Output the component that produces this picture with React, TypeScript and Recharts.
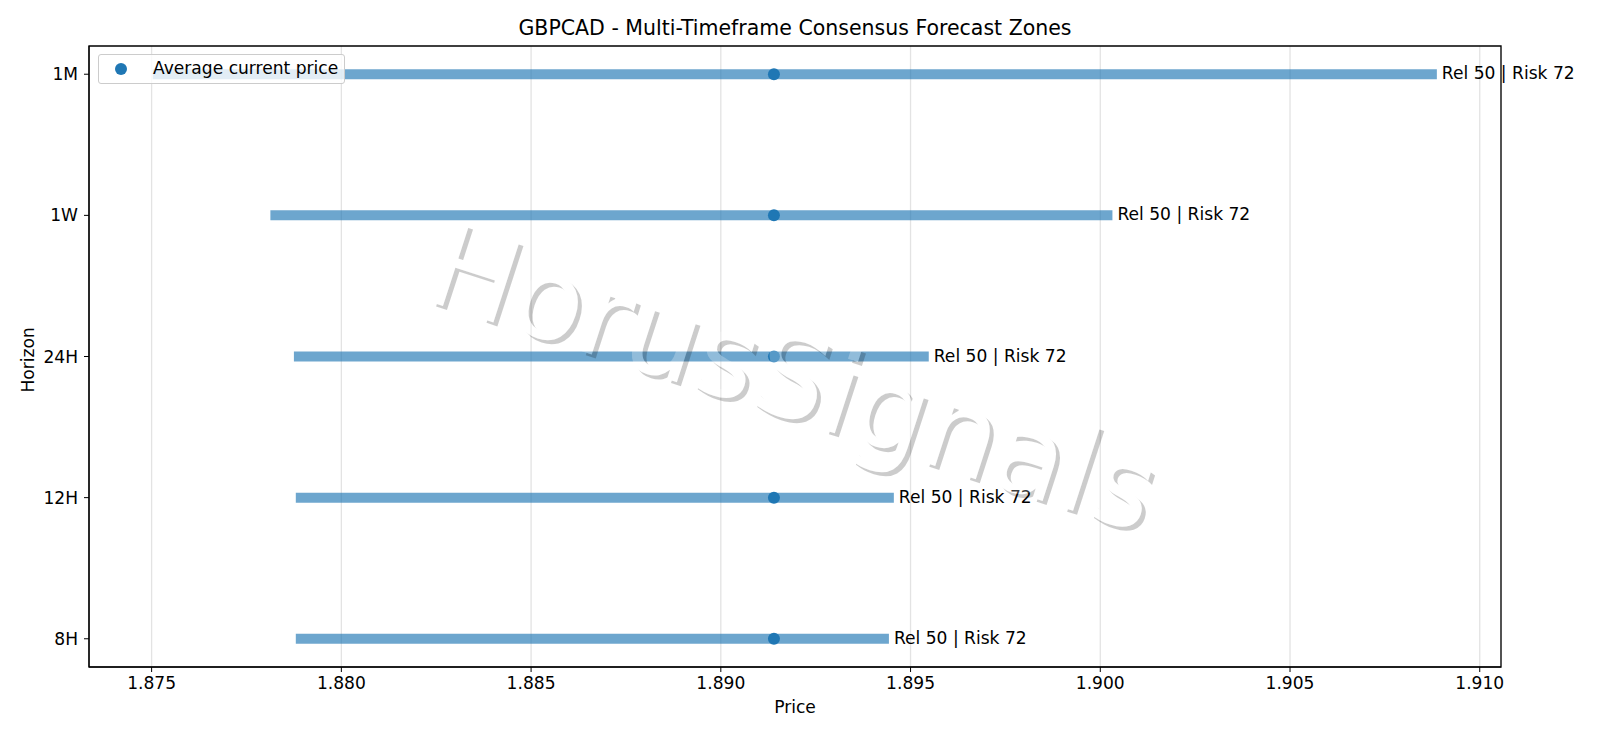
import React from 'react'
import { ScatterChart, Scatter, XAxis, YAxis, CartesianGrid, ReferenceArea, Legend } from 'recharts'

const horizons = ['8H', '12H', '24H', '1W', '1M']
const lows = [1.8788, 1.8788, 1.87875, 1.87813, 1.87503]
const highs = [1.89443, 1.89456, 1.89548, 1.90032, 1.90887]
const avgPrice = [1.8914, 1.8914, 1.8914, 1.8914, 1.8914]
const zoneLabels = ['Rel 50 | Risk 72', 'Rel 50 | Risk 72', 'Rel 50 | Risk 72', 'Rel 50 | Risk 72', 'Rel 50 | Risk 72']
const xTicks = [1.875, 1.88, 1.885, 1.89, 1.895, 1.9, 1.905, 1.91]
const yTicks = [0, 1, 2, 3, 4]
const xDomain = [1.87335, 1.91056]
const yDomain = [-0.2, 4.2]

const FONT = '"DejaVu Sans", sans-serif'
const BLUE = '#1f77b4'
const WATERMARK = 'HorusSignals'
const WM_TRANSFORM = 'translate(781 416) rotate(18)'
const WM_SIZE = 116

const avgPoints = avgPrice.map((x, i) => ({ x, y: i }))
const labelPoints = highs.map((x, i) => ({ x, y: i, text: zoneLabels[i] }))

const ZoneLabel = (props: any) => (
  <text x={props.cx + 5} y={props.cy + 5} fontSize={17.1} fontFamily={FONT} fill="#000">
    {props.payload.text}
  </text>
)

const AvgLegend = () => (
  <div style={{ width: 247, height: 30, boxSizing: 'border-box', background: 'rgba(255,255,255,0.8)', border: '1px solid #ccc', borderRadius: 3, position: 'relative', fontFamily: FONT, fontSize: 17.1, color: '#000' }}>
    <span style={{ position: 'absolute', left: 16, top: 8, width: 12, height: 12, borderRadius: 6, background: BLUE }} />
    <span style={{ position: 'absolute', left: 54, top: 3, whiteSpace: 'nowrap' }}>Average current price</span>
  </div>
)

// white letters with a soft shadow that only shows outside the glyphs
const Watermark = () => (
  <svg width={1600} height={738} style={{ position: 'absolute', left: 0, top: 0, pointerEvents: 'none' }}>
    <defs>
      <mask id="wm-cut" maskUnits="userSpaceOnUse" x={0} y={0} width={1600} height={738}>
        <rect x={0} y={0} width={1600} height={738} fill="#fff" />
        <g transform={WM_TRANSFORM} fontFamily={FONT} fontSize={WM_SIZE} textAnchor="middle">
          <text fill="#000">{WATERMARK}</text>
        </g>
      </mask>
    </defs>
    <g mask="url(#wm-cut)">
      <g transform="translate(4 4)">
        <g transform={WM_TRANSFORM} fontFamily={FONT} fontSize={WM_SIZE} textAnchor="middle">
          <text fill="#000" fillOpacity={0.2}>{WATERMARK}</text>
        </g>
      </g>
    </g>
    <g transform={WM_TRANSFORM} fontFamily={FONT} fontSize={WM_SIZE} textAnchor="middle">
      <text fill="#fff" fillOpacity={0.25}>{WATERMARK}</text>
    </g>
  </svg>
)

export default function App() {
  return (
    <div style={{ position: 'absolute', left: 0, top: 0, width: 1600, height: 738, background: '#fff', overflow: 'hidden' }}>
      <div style={{ position: 'absolute', left: 0, top: 16, paddingLeft: 190, boxSizing: 'border-box', width: 1400, textAlign: 'center', fontFamily: FONT, fontSize: 20.5, color: '#000' }}>
        GBPCAD - Multi-Timeframe Consensus Forecast Zones
      </div>
      <ScatterChart width={1600} height={738} margin={{ top: 46, right: 99, bottom: 1, left: 0 }}>
        <CartesianGrid horizontal={false} stroke="#e3e3e3" strokeWidth={1.3} />
        <XAxis
          type="number"
          dataKey="x"
          domain={xDomain}
          ticks={xTicks}
          height={40}
          tickSize={5}
          tickMargin={5}
          tickFormatter={(v: number) => v.toFixed(3)}
          tick={{ fontSize: 17.1, fontFamily: FONT, fill: '#000' }}
          stroke="#000"
          label={{ value: 'Price', position: 'insideBottom', offset: -6, fontSize: 17.1, fontFamily: FONT, fill: '#000' }}
        />
        <YAxis
          type="number"
          dataKey="y"
          domain={yDomain}
          ticks={yTicks}
          width={89}
          tickSize={5}
          tickMargin={6}
          tickFormatter={(v: number) => horizons[v]}
          tick={{ fontSize: 17.1, fontFamily: FONT, fill: '#000' }}
          stroke="#000"
          label={{ value: 'Horizon', angle: -90, position: 'insideLeft', offset: 28, dy: 36, fontSize: 17.1, fontFamily: FONT, fill: '#000' }}
        />
        {horizons.map((h, i) => (
          <Scatter
            key={h}
            data={[{ x: lows[i], y: i }, { x: highs[i], y: i }]}
            line={{ stroke: BLUE, strokeWidth: 10, strokeOpacity: 0.65 }}
            shape={() => <g />}
            isAnimationActive={false}
          />
        ))}
        <Scatter data={avgPoints} fill={BLUE} isAnimationActive={false} shape={(p: any) => <circle cx={p.cx} cy={p.cy} r={6} fill={BLUE} />} />
        <Scatter data={labelPoints} shape={ZoneLabel} isAnimationActive={false} />
        <ReferenceArea x1={xDomain[0]} x2={xDomain[1]} y1={yDomain[0]} y2={yDomain[1]} fill="none" stroke="#000" strokeWidth={1.3} />
        <Legend content={<AvgLegend />} layout="vertical" wrapperStyle={{ position: 'absolute', left: 98, top: 54, width: 247, height: 30 }} />
      </ScatterChart>
      <Watermark />
    </div>
  )
}
